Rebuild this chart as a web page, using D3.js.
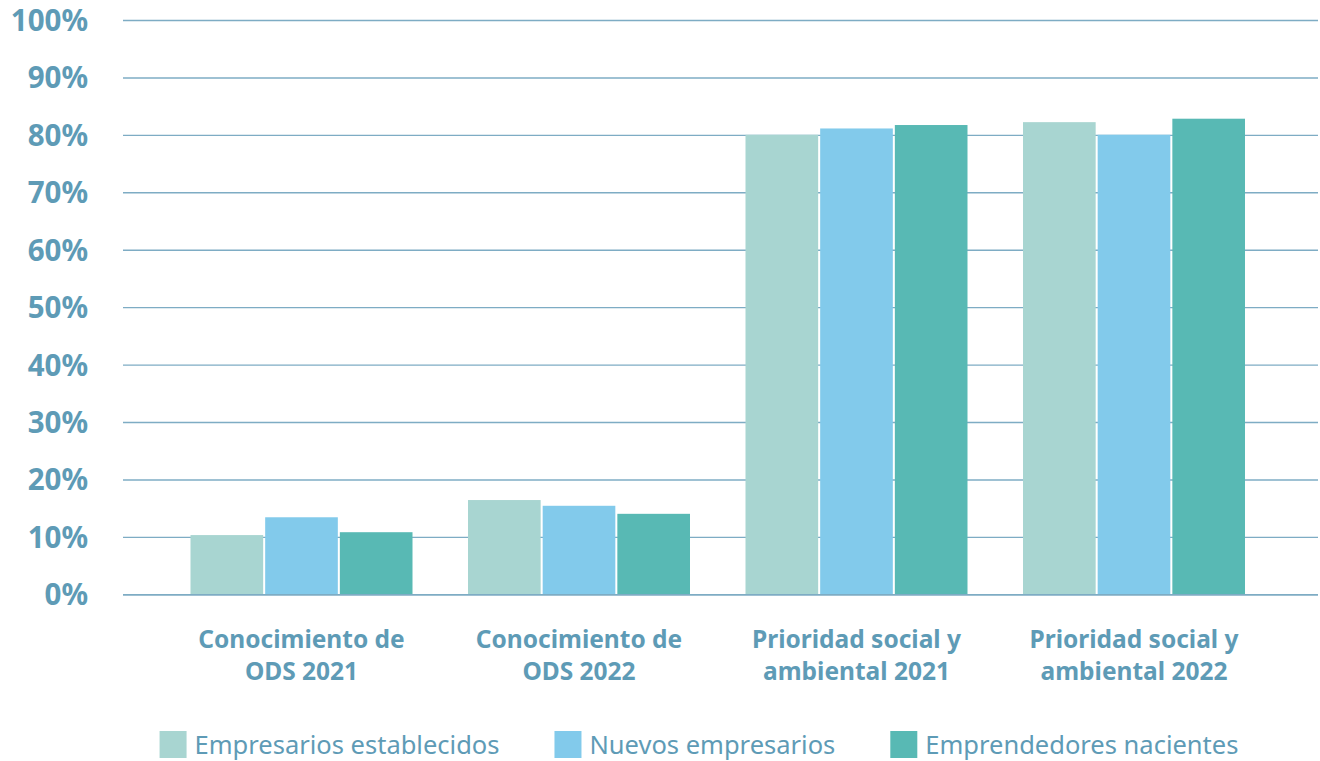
<!DOCTYPE html>
<html lang="es">
<head>
<meta charset="utf-8">
<script src="https://cdn.jsdelivr.net/npm/d3@7"></script>
<style>
  html, body { margin: 0; padding: 0; background: #ffffff; }
  svg { display: block; }
  text { font-family: "Noto Sans", "Open Sans", sans-serif; }
</style>
</head>
<body>
<svg id="chart" width="1320" height="761"></svg>
<script>
// Category labels (two lines each)
const categories = [
  ["Conocimiento de", "ODS 2021"],
  ["Conocimiento de", "ODS 2022"],
  ["Prioridad social y", "ambiental 2021"],
  ["Prioridad social y", "ambiental 2022"]
];
const seriesNames = ["Empresarios establecidos", "Nuevos empresarios", "Emprendedores nacientes"];
const seriesColors = ["#a8d5d1", "#82caeb", "#58b9b4"];

// Percent values per series, one per category
const establecidos = [10.4, 16.5, 80.1, 82.3];
const nuevos       = [13.5, 15.5, 81.2, 80.1];
const nacientes    = [10.9, 14.1, 81.8, 82.9];
const yTicks = [0, 10, 20, 30, 40, 50, 60, 70, 80, 90, 100];

const series = [establecidos, nuevos, nacientes];
const textColor = "#5e9bb6";
const gridColor = "#7eacc4";

const svg = d3.select("#chart");
const plot = { left: 123, right: 1318, top: 20.5, bottom: 594.8 };

const y = d3.scaleLinear().domain([0, 100]).range([plot.bottom, plot.top]);

const x0 = d3.scaleBand()
  .domain(d3.range(categories.length))
  .range([162.75, 1272.75])
  .paddingInner(0.2)
  .paddingOuter(0.1);

const x1 = d3.scaleBand()
  .domain(d3.range(series.length))
  .range([0, x0.bandwidth()])
  .paddingInner(0.027);

// Horizontal gridlines
svg.append("g")
  .selectAll("line")
  .data(yTicks)
  .join("line")
  .attr("x1", plot.left)
  .attr("x2", plot.right)
  .attr("y1", d => y(d))
  .attr("y2", d => y(d))
  .attr("stroke", gridColor)
  .attr("stroke-width", 1.4);

// Y axis labels
const yAxis = d3.axisLeft(y)
  .tickValues(yTicks)
  .tickFormat(d => d + "%")
  .tickSize(0)
  .tickPadding(0);

const yg = svg.append("g")
  .attr("transform", "translate(88,0)")
  .call(yAxis);
yg.select(".domain").remove();
yg.selectAll("text")
  .attr("fill", textColor)
  .attr("font-size", 29.5)
  .attr("font-weight", 700)
  .attr("dy", "0.34em")
  .style("font-family", "'Noto Sans', sans-serif");

// Bars
const groups = svg.append("g")
  .selectAll("g")
  .data(categories.map((c, i) => i))
  .join("g")
  .attr("transform", i => `translate(${x0(i)},0)`);

groups.selectAll("rect")
  .data(i => series.map((s, j) => ({ j, v: s[i] })))
  .join("rect")
  .attr("x", d => x1(d.j))
  .attr("width", x1.bandwidth())
  .attr("y", d => y(d.v))
  .attr("height", d => y(0) - y(d.v))
  .attr("fill", d => seriesColors[d.j]);

// Redraw baseline above bars
svg.append("line")
  .attr("x1", plot.left).attr("x2", plot.right)
  .attr("y1", y(0)).attr("y2", y(0))
  .attr("stroke", gridColor).attr("stroke-width", 1.4);

// Category labels
const catLabels = svg.append("g")
  .selectAll("text")
  .data(categories.map((c, i) => ({ c, i })))
  .join("text")
  .attr("x", d => x0(d.i) + x0.bandwidth() / 2)
  .attr("y", 648)
  .attr("text-anchor", "middle")
  .attr("fill", textColor)
  .attr("font-size", 24.5)
  .attr("font-weight", 700);
catLabels.selectAll("tspan")
  .data(d => d.c.map((line, k) => ({ line, k, x: x0(d.i) + x0.bandwidth() / 2 })))
  .join("tspan")
  .attr("x", d => d.x)
  .attr("dy", d => d.k === 0 ? 0 : 32)
  .text(d => d.line);

// Legend: flow layout centered around x = 699
const legend = svg.append("g");
const items = legend.selectAll("g")
  .data(seriesNames.map((n, j) => ({ n, j })))
  .join("g");
items.append("rect")
  .attr("width", 27).attr("height", 27)
  .attr("y", 731)
  .attr("fill", d => seriesColors[d.j]);
items.append("text")
  .attr("x", 35)
  .attr("y", 754)
  .attr("fill", textColor)
  .attr("font-size", 25.5)
  .text(d => d.n);

const widths = [];
items.each(function () {
  widths.push(35 + d3.select(this).select("text").node().getComputedTextLength());
});
const gap = 55;
const total = d3.sum(widths) + gap * (widths.length - 1);
let cx = 699 - total / 2;
items.attr("transform", (d, i) => {
  const t = `translate(${cx},0)`;
  cx += widths[i] + gap;
  return t;
});
</script>
</body>
</html>
